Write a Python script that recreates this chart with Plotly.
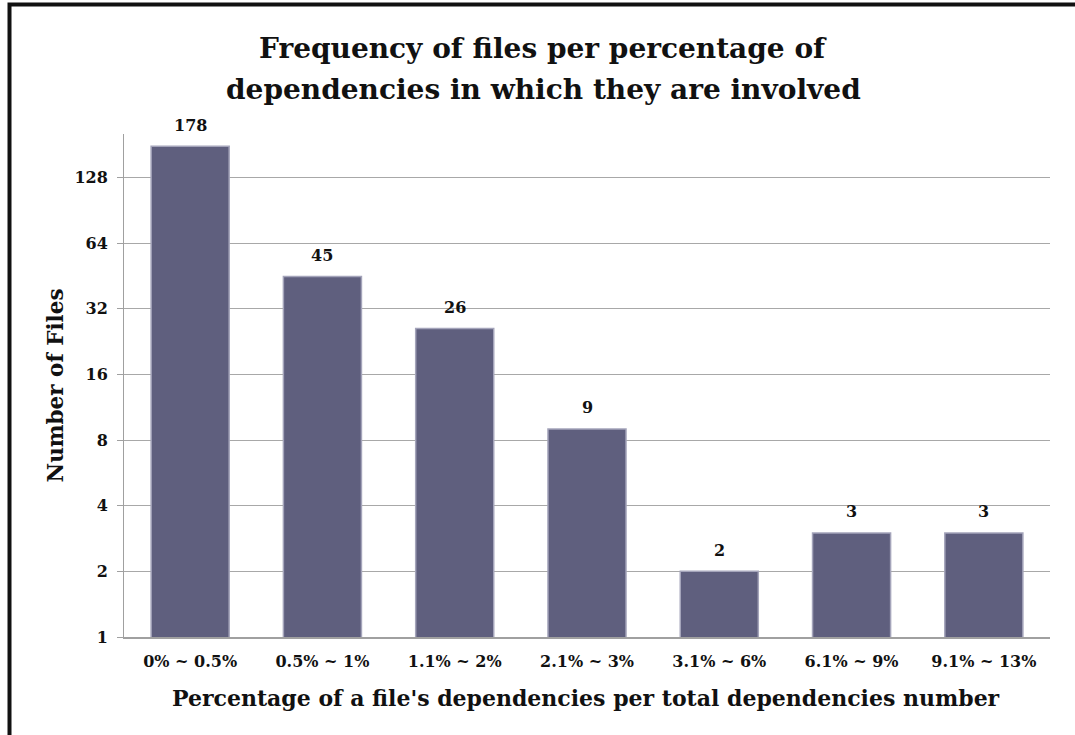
import plotly.graph_objects as go
import math

categories = ["0% ~ 0.5%", "0.5% ~ 1%", "1.1% ~ 2%", "2.1% ~ 3%", "3.1% ~ 6%", "6.1% ~ 9%", "9.1% ~ 13%"]
files = [178, 45, 26, 9, 2, 3, 3]
y_ticks = [1, 2, 4, 8, 16, 32, 64, 128]
title_lines = ["Frequency of files per percentage of", "dependencies in which they are involved"]

FONT = "DejaVu Serif"
BAR = "#5f5f7e"

def py2paper(py):
    return (637 - py) / 503

def px2paper(px):
    return (px - 124) / 926

fig = go.Figure()
fig.add_trace(go.Bar(
    x=categories, y=files,
    marker=dict(color=BAR, line=dict(color="#a4a4ba", width=1.5)),
    width=0.59,
    hoverinfo="x+y",
))

for c, v in zip(categories, files):
    fig.add_annotation(x=c, y=math.log10(v), text=str(v), showarrow=False,
                       yshift=21, font=dict(family=FONT, size=16, color="#111", weight="bold"))

# title lines
for line, cy in zip(title_lines, [48, 89]):
    fig.add_annotation(xref="paper", yref="paper", x=px2paper(543), y=py2paper(cy),
                       text=line, showarrow=False, xanchor="center", yanchor="middle",
                       font=dict(family=FONT, size=28, color="#111", weight="bold"))

# axis titles
fig.add_annotation(xref="paper", yref="paper", x=px2paper(586), y=py2paper(698),
                   text="Percentage of a file's dependencies per total dependencies number",
                   showarrow=False, xanchor="center", yanchor="middle",
                   font=dict(family=FONT, size=22, color="#111", weight="bold"))
fig.add_annotation(xref="paper", yref="paper", x=px2paper(55), y=0.5,
                   text="Number of Files", textangle=-90,
                   showarrow=False, xanchor="center", yanchor="middle",
                   font=dict(family=FONT, size=21.5, color="#111", weight="bold"))

# frame
fig.add_shape(type="rect", xref="paper", yref="paper",
              x0=px2paper(9.5), x1=1.3, y0=-0.5, y1=py2paper(4.5),
              line=dict(color="#111", width=4), layer="above")

fig.update_layout(
    width=1075, height=735,
    margin=dict(l=124, r=25, t=134, b=98, autoexpand=False),
    paper_bgcolor="white", plot_bgcolor="white",
    showlegend=False,
    xaxis=dict(
        showline=True, linecolor="#a0a0a0", linewidth=1.5,
        ticks="", ticklabelstandoff=9,
        tickfont=dict(family=FONT, size=16, color="#111", weight="bold"),
        showgrid=False,
    ),
    yaxis=dict(
        type="log", range=[0, 2.307],
        tickvals=y_ticks, ticktext=[str(t) for t in y_ticks],
        showline=True, linecolor="#a0a0a0", linewidth=1,
        ticks="outside", ticklen=6, tickcolor="#a0a0a0", ticklabelstandoff=6,
        showgrid=True, gridcolor="#a8a8a8", gridwidth=1,
        tickfont=dict(family=FONT, size=16, color="#111", weight="bold"),
        zeroline=False,
    ),
)

fig.write_html("out.html")
